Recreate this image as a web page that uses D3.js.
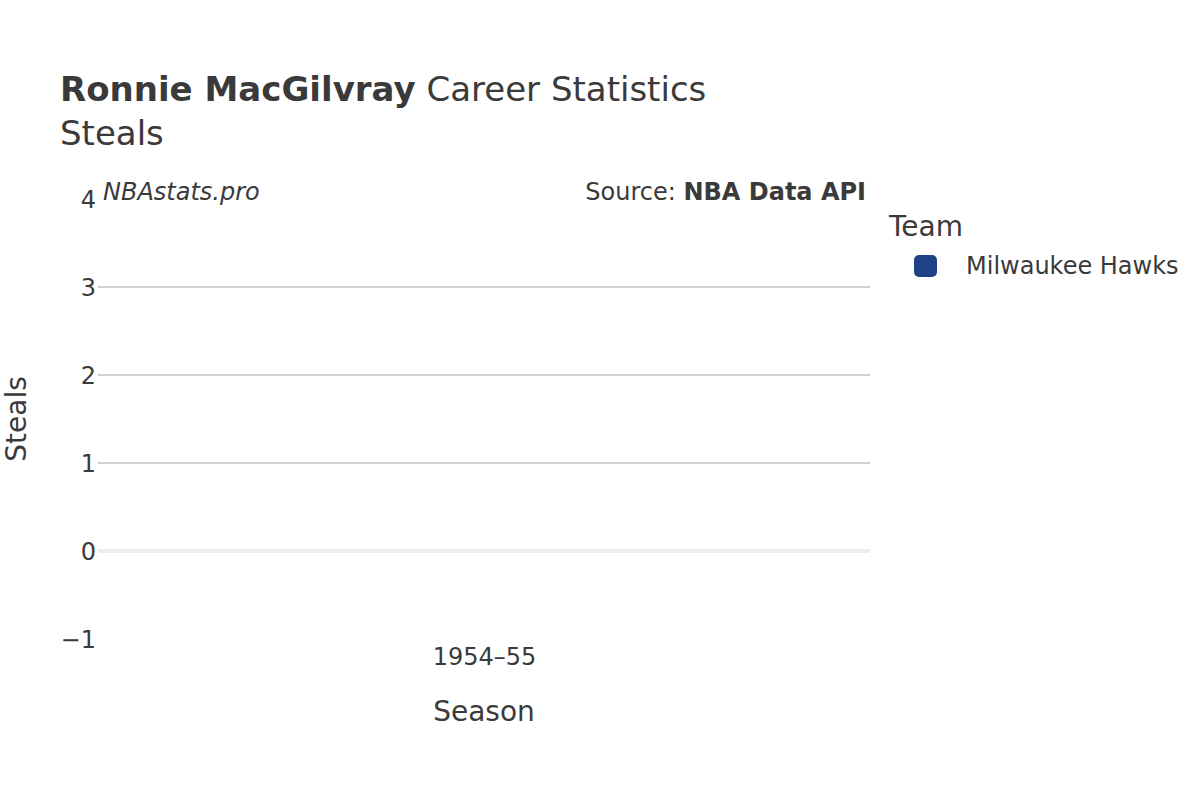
<!DOCTYPE html>
<html>
<head>
<meta charset="utf-8">
<script src="https://cdn.jsdelivr.net/npm/d3@7"></script>
<style>
  body { margin: 0; background: #fff; }
  svg { font-family: "DejaVu Sans", sans-serif; }
</style>
</head>
<body>
<svg id="chart" width="1200" height="800"></svg>
<script>
// Data
const seasons = ["1954–55"];
const steals = [null];          // no steals recorded that season
const teams = ["Milwaukee Hawks"];
const teamColors = ["#1f4287"];
const yTicks = [-1, 0, 1, 2, 3, 4];

const width = 1200, height = 800;
const margin = { top: 199, right: 330, bottom: 161, left: 98 };

const svg = d3.select("#chart");
const textColor = "#3a3a3a";

const x = d3.scalePoint()
    .domain(seasons)
    .range([margin.left, width - margin.right])
    .padding(0.5);

const y = d3.scaleLinear()
    .domain([-1, 4])
    .range([height - margin.bottom, margin.top]);

/* ---------------- grid ---------------- */

svg.append("g")
    .selectAll("line")
    .data(yTicks.filter(t => t > -1 && t < 4 && t !== 0))
    .join("line")
    .attr("x1", margin.left)
    .attr("x2", width - margin.right)
    .attr("y1", d => y(d))
    .attr("y2", d => y(d))
    .attr("stroke", "#c4c4c4")
    .attr("stroke-width", 1.5);

// zero line
svg.append("line")
    .attr("x1", margin.left)
    .attr("x2", width - margin.right)
    .attr("y1", y(0))
    .attr("y2", y(0))
    .attr("stroke", "#ececec")
    .attr("stroke-width", 4);

/* ---------------- axes ---------------- */

const yAxis = svg.append("g")
    .attr("transform", `translate(${margin.left - 2},0)`)
    .call(d3.axisLeft(y).tickValues(yTicks).tickSize(0).tickPadding(0)
        .tickFormat(d => d < 0 ? "\u2212" + Math.abs(d) : d));
yAxis.select(".domain").remove();
yAxis.attr("font-size", 24).attr("font-family", "DejaVu Sans");
yAxis.selectAll("text")
    .attr("fill", textColor)
    .attr("dy", "0.35em");

const xAxis = svg.append("g")
    .attr("transform", `translate(0,${y(-1) + 9})`)
    .call(d3.axisBottom(x).tickSize(0).tickPadding(0));
xAxis.select(".domain").remove();
xAxis.attr("font-size", 24).attr("font-family", "DejaVu Sans");
xAxis.selectAll("text")
    .attr("fill", textColor)
    .attr("dy", "0.71em");

/* ---------------- data marks ---------------- */

const pts = seasons.map((s, i) => ({ season: s, value: steals[i] }))
    .filter(d => d.value != null);

svg.append("path")
    .datum(pts)
    .attr("fill", "none")
    .attr("stroke", teamColors[0])
    .attr("stroke-width", 3)
    .attr("d", d3.line().x(d => x(d.season)).y(d => y(d.value)));

svg.append("g")
    .selectAll("circle")
    .data(pts)
    .join("circle")
    .attr("cx", d => x(d.season))
    .attr("cy", d => y(d.value))
    .attr("r", 6)
    .attr("fill", teamColors[0]);

/* ---------------- titles ---------------- */

const title = svg.append("text")
    .attr("x", 60)
    .attr("y", 101)
    .attr("font-size", 34)
    .attr("fill", textColor);
title.append("tspan").attr("font-weight", "bold").text("Ronnie MacGilvray");
title.append("tspan").text(" Career Statistics");

svg.append("text")
    .attr("x", 60)
    .attr("y", 145)
    .attr("font-size", 34)
    .attr("fill", textColor)
    .text("Steals");

svg.append("text")
    .attr("x", 103)
    .attr("y", 200)
    .attr("font-size", 24)
    .attr("font-style", "italic")
    .attr("fill", textColor)
    .text("NBAstats.pro");

const src = svg.append("text")
    .attr("x", 866)
    .attr("y", 200)
    .attr("text-anchor", "end")
    .attr("font-size", 24)
    .attr("fill", textColor);
src.append("tspan").text("Source: ");
src.append("tspan").attr("font-weight", "bold").text("NBA Data API");

svg.append("text")
    .attr("x", x(seasons[0]))
    .attr("y", 721)
    .attr("text-anchor", "middle")
    .attr("font-size", 28)
    .attr("fill", textColor)
    .text("Season");

svg.append("text")
    .attr("transform", `translate(26,${y(1.5)}) rotate(-90)`)
    .attr("text-anchor", "middle")
    .attr("font-size", 28)
    .attr("fill", textColor)
    .text("Steals");

/* ---------------- legend ---------------- */

svg.append("text")
    .attr("x", 889)
    .attr("y", 236)
    .attr("font-size", 28)
    .attr("fill", textColor)
    .text("Team");

const legendItems = svg.append("g")
    .selectAll("g")
    .data(teams)
    .join("g")
    .attr("transform", (d, i) => `translate(914,${266 + i * 30})`);

legendItems.append("rect")
    .attr("x", 0)
    .attr("y", -11)
    .attr("width", 23)
    .attr("height", 22)
    .attr("rx", 5)
    .attr("fill", (d, i) => teamColors[i]);

legendItems.append("text")
    .attr("x", 52)
    .attr("y", 0)
    .attr("dy", "0.35em")
    .attr("font-size", 24)
    .attr("fill", textColor)
    .text(d => d);
</script>
</body>
</html>
